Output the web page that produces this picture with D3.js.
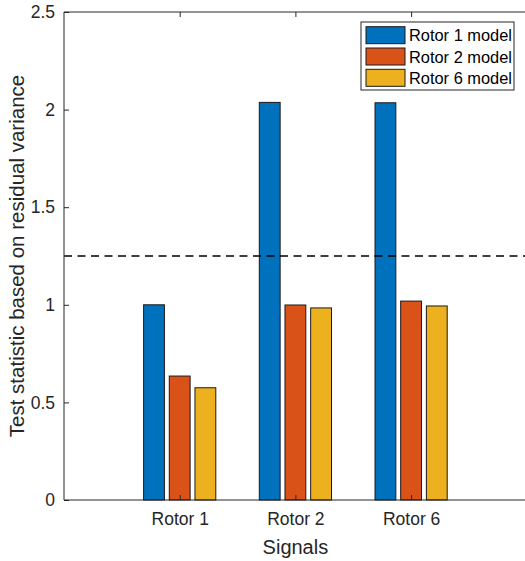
<!DOCTYPE html>
<html>
<head>
<meta charset="utf-8">
<script src="https://cdn.jsdelivr.net/npm/d3@7"></script>
<style>
  body { margin: 0; background: #fff; }
  text { font-family: "Liberation Sans", Arial, sans-serif; fill: #262626; }
</style>
</head>
<body>
<div id="chart"></div>
<script>
// data
var signals = ["Rotor 1", "Rotor 2", "Rotor 6"];
var models = ["Rotor 1 model", "Rotor 2 model", "Rotor 6 model"];
var rotor1Model = [1.00, 2.037, 2.035];
var rotor2Model = [0.635, 0.999, 1.019];
var rotor6Model = [0.575, 0.984, 0.994];
var threshold = 1.25;
var yTicks = [0, 0.5, 1, 1.5, 2, 2.5];
var colors = ["#0072BD", "#D95319", "#EDB120"];

var series = [rotor1Model, rotor2Model, rotor6Model];

var svgWidth = 525;
var svgHeight = 561;
var margin = { top: 12, left: 64, bottom: 61 };
var plotBottom = svgHeight - margin.bottom;

var svg = d3.select("#chart")
  .append("svg")
  .attr("width", svgWidth)
  .attr("height", svgHeight);

// scales: categories sit at 1,2,3 on a 0..4 axis (right edge runs off the page)
var xScale = d3.scaleLinear()
  .domain([0, 4])
  .range([margin.left, margin.left + 4 * 115.7]);

var yScale = d3.scaleLinear()
  .domain([0, 2.5])
  .range([plotBottom, margin.top]);

var groupOffset = 0.222;
var barWidth = 0.18;

// bars
series.forEach(function (vals, s) {
  svg.append("g")
    .selectAll("rect")
    .data(vals)
    .enter()
    .append("rect")
    .attr("x", (d, i) => xScale(i + 1 + (s - 1) * groupOffset - barWidth / 2))
    .attr("y", d => yScale(d))
    .attr("width", xScale(barWidth) - xScale(0))
    .attr("height", d => yScale(0) - yScale(d))
    .attr("fill", colors[s])
    .attr("stroke", "#1a1a1a")
    .attr("stroke-width", 1);
});

// threshold line
svg.append("line")
  .attr("x1", xScale(0))
  .attr("x2", xScale(4))
  .attr("y1", yScale(threshold))
  .attr("y2", yScale(threshold))
  .attr("stroke", "#000")
  .attr("stroke-width", 1.6)
  .attr("stroke-dasharray", "8,5.5");

// axes
var leftAxis = d3.axisLeft(yScale)
  .tickValues(yTicks)
  .tickSize(-5)
  .tickPadding(9)
  .tickFormat(d3.format("~g"));

var yAxisG = svg.append("g")
  .attr("transform", `translate(${margin.left},0)`)
  .call(leftAxis);

var bottomAxis = d3.axisBottom(xScale)
  .tickValues([1, 2, 3])
  .tickSize(-5)
  .tickPadding(13)
  .tickFormat((d, i) => signals[i]);

var xAxisG = svg.append("g")
  .attr("transform", `translate(0,${plotBottom})`)
  .call(bottomAxis);

var topAxis = d3.axisTop(xScale)
  .tickValues([1, 2, 3])
  .tickSize(-5)
  .tickFormat("");

var topAxisG = svg.append("g")
  .attr("transform", `translate(0,${margin.top})`)
  .call(topAxis);

[yAxisG, xAxisG, topAxisG].forEach(function (g) {
  g.select(".domain").attr("stroke", "#262626").attr("stroke-width", 1);
  g.selectAll(".tick line").attr("stroke", "#262626");
  g.selectAll("text").style("font-size", "17.5px").attr("fill", "#262626");
});
yAxisG.select(".domain").attr("d", `M0,${plotBottom}V${margin.top}`);
xAxisG.select(".domain").attr("d", `M${margin.left},0H${svgWidth + 5}`);
topAxisG.select(".domain").attr("d", `M${margin.left},0H${svgWidth + 5}`);

// labels
svg.append("text")
  .attr("transform", `translate(24, ${(margin.top + plotBottom) / 2}) rotate(-90)`)
  .attr("text-anchor", "middle")
  .style("font-size", "20.5px")
  .text("Test statistic based on residual variance");

svg.append("text")
  .attr("x", xScale(2))
  .attr("y", 554)
  .attr("text-anchor", "middle")
  .style("font-size", "20px")
  .text("Signals");

// legend
var legend = svg.append("g").attr("transform", "translate(361,22)");

legend.append("rect")
  .attr("width", 153)
  .attr("height", 68)
  .attr("fill", "#fff")
  .attr("stroke", "#262626")
  .attr("stroke-width", 1);

models.forEach(function (name, i) {
  legend.append("rect")
    .attr("x", 5)
    .attr("y", 4.7 + i * 21.3)
    .attr("width", 39)
    .attr("height", 17)
    .attr("fill", colors[i])
    .attr("stroke", "#1a1a1a")
    .attr("stroke-width", 1);
  legend.append("text")
    .attr("x", 48)
    .attr("y", 13.5 + i * 21.3)
    .attr("dy", "0.35em")
    .style("font-size", "16.4px")
    .attr("fill", "#000")
    .style("fill", "#000")
    .text(name);
});
</script>
</body>
</html>
